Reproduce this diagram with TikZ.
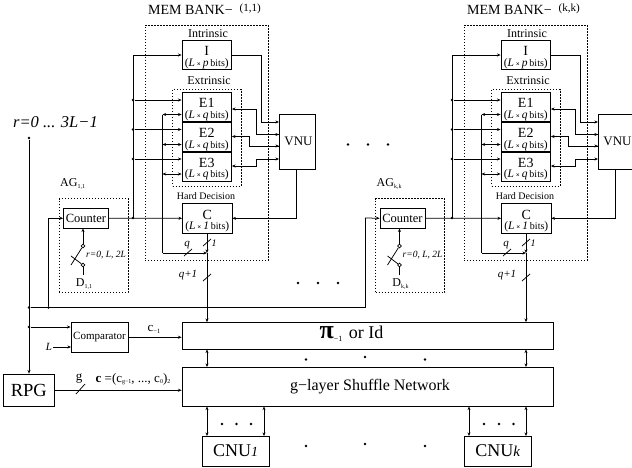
\documentclass[tikz,border=0pt]{standalone}
\usepackage{fontspec}
\setmainfont{Liberation Serif}
\usetikzlibrary{arrows.meta,calc}
\newcommand{\fs}[1]{\fontsize{#1}{#1}\selectfont}
\newcommand{\lowtxt}[2][-1.5pt]{\raisebox{#1}{\fs{6}#2}}
\newcommand{\bitslabel}[1]{{\fs{11.5}(\textit{L}\,{\fs{7}\textbf{×}}\,\textit{#1}\,{\fs{10}bits})}}
\newcommand{\memtext}[2]{\fs{14}\rule{0pt}{14.5pt}#1\\[-1.5pt]\bitslabel{#2}}
\tikzset{
  >={Stealth[length=3.6pt,width=3pt]},
  wire/.style={line width=0.75pt},
  box/.style={draw,line width=0.8pt,inner sep=0pt,align=center},
  membox/.style={box,minimum width=49.5pt,minimum height=29.5pt},
  dotbox/.style={draw,line width=0.8pt,dash pattern=on 1.4pt off 1.6pt,inner sep=0pt},
  lbl/.style={inner sep=0pt,align=center},
  jdot/.style={circle,fill=black,inner sep=0pt,minimum size=2.6pt},
  sw/.style={circle,draw,fill=white,line width=0.7pt,inner sep=0pt,minimum size=3.6pt},
  spot/.style={circle,fill=black,inner sep=0pt,minimum size=2.6pt}
}
% #1 suffix, #2 bank offset, #3 bank index, #4 AG offset, #5 sub
\newcommand{\bank}[5]{%
\begin{scope}[shift={(#2,0)}]
  \node[dotbox,minimum width=123.5pt,minimum height=234.5pt] (mem#1) at (206.75,142.75) {};
  \node[dotbox,minimum width=68.5pt,minimum height=96.5pt] (ext#1) at (206.75,137.75) {};
  \node[lbl,anchor=west] (memt#1) at (148,10) {\fs{14}MEM BANK−};
  \node[lbl,anchor=west] (memi#1) at (239.5,9) {\fs{11}(#3)};
  \node[lbl] (intr#1) at (208,34) {\fs{12}Intrinsic};
  \node[lbl] (extr#1) at (209,81) {\fs{12}Extrinsic};
  \node[lbl] (hard#1) at (206,196) {\fs{10}Hard Decision};
  \node[membox,fill=white] (I#1) at (206.75,55) {\memtext{I}{p}};
  \node[membox,fill=white] (Ea#1) at (206.75,107) {\memtext{E1}{q}};
  \node[membox,fill=white] (Eb#1) at (206.75,137) {\memtext{E2}{q}};
  \node[membox,fill=white] (Ec#1) at (206.75,166.7) {\memtext{E3}{q}};
  \node[membox,fill=white] (C#1) at (207.25,218.3) {\memtext{C}{1}};
  \node[box,fill=white,minimum width=36pt,minimum height=55pt] (V#1) at (297,141.5) {\fs{13}\hspace*{3pt}VNU};
  % named points
  \coordinate (ba#1) at (133,55);
  \coordinate (bb#1) at (133,218);
  \coordinate (ca#1) at (162.5,114.5);
  \coordinate (cc#1) at (162.5,253);
  \coordinate (sj#1) at (207,253);
  \coordinate (fa#1) at (261,55);
  \coordinate (ga#1) at (256,109);
  \coordinate (gb#1) at (249,136.5);
  \coordinate (gc#1) at (256.5,166);
  % buses
  \draw[wire,->] (bb#1) |- (I#1.west);
  \foreach \yy/\nn in {100/Ea,129.5/Eb,159/Ec}{
    \node[jdot] (d\nn#1) at (133,\yy) {};
    \draw[wire,->] (d\nn#1) -- (d\nn#1 -| \nn#1.west);
  }
  \foreach \yy/\nn in {114.5/Ea,144.5/Eb,174/Ec}{
    \coordinate (h\nn#1) at (162.5,\yy);
    \draw[wire,<->] (h\nn#1) -- (h\nn#1 -| \nn#1.west);
  }
  \draw[wire] (ca#1) -- (cc#1);
  \draw[wire,->] (cc#1) -- (sj#1);
  % outputs to VNU
  \draw[wire,->] (I#1.east) -- (fa#1) -- (fa#1 |- 0,122) -- (279,122);
  \draw[wire,<-] (Ea#1.east |- ga#1) -- (ga#1) |- (279,134.5);
  \draw[wire,->] (ga#1 |- 0,134.5) -- (279,134.5);
  \draw[wire,<-] (Eb#1.east |- gb#1) -- (gb#1) |- (279,146);
  \draw[wire,->] (gb#1 |- 0,146) -- (279,146);
  \draw[wire,<->] (Ec#1.east |- gc#1) -- (gc#1) |- (279,159);
  \draw[wire,->] (296,169) |- (C#1.east);
  % C output
  \draw[wire,->] (C#1.south -| sj#1) -- (sj#1);
  \draw[wire] (203,246) -- (211,239);
  \draw[wire] (184,256) -- (192,249);
  \draw[wire] (203,281) -- (211,274);
  \node[lbl] (lq#1) at (187,245) {\fs{11}\textit{q}};
  \node[lbl] (lo#1) at (214,243) {\fs{10}\textit{1}};
  \node[lbl] (lp#1) at (188,275) {\fs{11}\textit{q+1}};
\end{scope}
\begin{scope}[shift={(#4,0)}]
  \node[dotbox,minimum width=69pt,minimum height=94pt] (ag#1) at (93.5,245.5) {};
  \node[box,fill=white,minimum width=45pt,minimum height=19.5pt] (cnt#1) at (86,218.25) {\fs{12.5}Counter};
  \node[lbl,anchor=west] (agl#1) at (60,184) {\fs{12}AG\lowtxt{#5}};
  \node[lbl] (dl#1) at (84,284) {\fs{12}D\lowtxt{#5}};
  \node[sw] (swa#1) at (83,246) {};
  \node[sw] (swb#1) at (83,265) {};
  \coordinate (swc#1) at (71,265);
  \coordinate (swd#1) at (71,256);
  \coordinate (swe#1) at (83,275);
  \draw[wire,->] (swa#1) -- (swa#1 |- cnt#1.south);
  \draw[wire] (swa#1) -- (swc#1);
  \draw[wire] (swd#1) -- (swb#1);
  \draw[wire] (swb#1) -- (swe#1);
  \node[lbl,anchor=west] (rr#1) at (86,255) {\fs{9.5}\textit{r=0, L, 2L}};
\end{scope}
\node[jdot] (j#1) at (133+#2,218) {};
\draw[wire,->] (cnt#1.east) -- (C#1.west);
}
\begin{document}
\begin{tikzpicture}[x=1pt,y=-1pt]
\clip (0,0) rectangle (632,467);
\fill[white] (0,0) rectangle (632,467);
\bank{A}{0}{1,1}{0}{1,1}
\bank{B}{319}{k,k}{316.5}{k,k}
% left side
\node[lbl] (rtxt) at (55.5,122) {\fs{16.5}\textit{r=0 ... 3L−1}};
\node[jdot] (rtop) at (29,138) {};
\node[box,minimum width=50.5pt,minimum height=32.5pt] (rpg) at (28.75,390.25) {\fs{18.5}RPG};
\node[box,minimum width=57pt,minimum height=29.5pt] (cmp) at (99.5,337.25) {\fs{11}Comparator};
\node[box,minimum width=371.5pt,minimum height=27pt] (pi) at (367.75,336) {};
\node[box,minimum width=371.5pt,minimum height=39.5pt] (sh) at (367.75,386.75) {};
\node[lbl] (pit) at (351.5,334) {\fs{26}\textbf{π}\raisebox{-3pt}{\fs{8}−1} \fs{18}or Id};
\node[lbl] (sht) at (370,387) {\fs{16}g−layer Shuffle Network};
\node[box,minimum width=67pt,minimum height=30pt] (cnua) at (235.5,451) {\fs{18}CNU\textit{\fs{14}1}};
\node[box,minimum width=67pt,minimum height=30pt] (cnuk) at (497.75,451) {\fs{18}CNU\textit{\fs{15}k}};
\node[jdot] (ja) at (29,307.5) {};
\node[jdot] (jb) at (48.5,307.5) {};
\node[jdot] (jc) at (29,327) {};
\coordinate (tr) at (365,307.5);
\coordinate (tu) at (365,218);
\draw[wire,->] (rtop) -- (rtop |- rpg.north);
\draw[wire] (ja) -- (tr) -- (tu);
\draw[wire,->] (tu) -- (cntB.west);
\draw[wire,->] (jb) |- (cntA.west);
\draw[wire,->] (jc) -- (jc -| cmp.west);
\node[lbl] (lL) at (49,347) {\fs{11}\textit{L}};
\draw[wire,->] (lL.east) ++(1,0) -- (71,347);
\draw[wire,->] (cmp.east) -- (cmp.east -| pi.west);
\node[lbl] (cm) at (154,329) {\fs{13}c\raisebox{-2pt}{\fs{6.5}−1}};
\draw[wire,->] (rpg.east) -- (rpg.east -| sh.west);
\draw[wire] (76,394) -- (85,384);
\node[lbl] (gl) at (79,379) {\fs{13}g};
\node[lbl] (cl) at (133,379) {\fs{13}\textbf{c} =(c\lowtxt{g−1}, ..., c\lowtxt{0})\lowtxt{2}};
% drops to permutation
\draw[wire,->] (sjA) -- (sjA |- pi.north);
\draw[wire,->] (sjB) -- (sjB |- pi.north);
\draw[wire,<->] (207,349.5) -- (207,367);
\draw[wire,<->] (526,349.5) -- (526,367);
\draw[wire,<->] (207,406.5) -- (207,436);
\draw[wire,<->] (264,406.5) -- (264,436);
\draw[wire,<->] (469,406.5) -- (469,436);
\draw[wire,<->] (526,406.5) -- (526,436);
% dots
\foreach \i/\x/\y in {1/348/144.5,2/368/144.5,3/388/144.5,4/298/283,5/318/283,6/338/283,
  7/306/359.5,8/365/357,9/425/359.5,10/306/446,11/365/444,12/425/446,
  13/222/424,14/236.5/424,15/251/424,16/484/424,17/499/424,18/513.5/424}{
  \node[spot] (s\i) at (\x,\y) {};
}
\end{tikzpicture}
\end{document}
